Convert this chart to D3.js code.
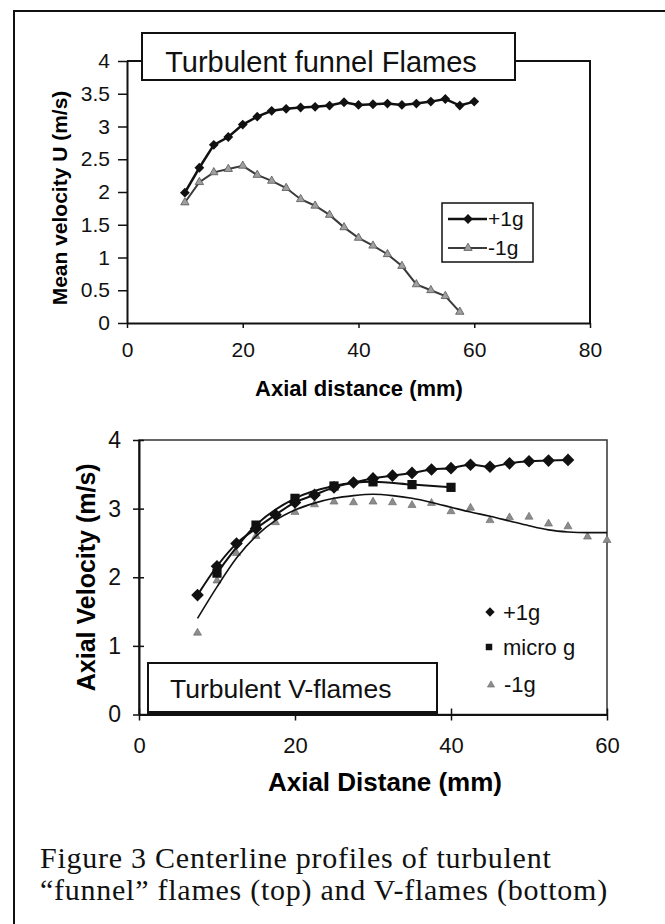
<!DOCTYPE html>
<html>
<head>
<meta charset="utf-8">
<script src="https://cdn.jsdelivr.net/npm/d3@7"></script>
<style>
  body { margin: 0; background: #fff; }
  svg { display: block; }
</style>
</head>
<body>
<script>
// ---- top chart data (Turbulent funnel Flames) ----
const funnelPlusX = [10, 12.5, 15, 17.5, 20, 22.5, 25, 27.5, 30, 32.5, 35, 37.5, 40, 42.5, 45, 47.5, 50, 52.5, 55, 57.5, 60];
const funnelPlusU = [1.99, 2.37, 2.72, 2.84, 3.03, 3.15, 3.24, 3.27, 3.29, 3.30, 3.32, 3.37, 3.33, 3.34, 3.35, 3.33, 3.35, 3.38, 3.42, 3.32, 3.38];
const funnelMinusX = [10, 12.5, 15, 17.5, 20, 22.5, 25, 27.5, 30, 32.5, 35, 37.5, 40, 42.5, 45, 47.5, 50, 52.5, 55, 57.5];
const funnelMinusU = [1.84, 2.15, 2.30, 2.35, 2.40, 2.26, 2.17, 2.06, 1.89, 1.79, 1.65, 1.46, 1.30, 1.18, 1.05, 0.87, 0.59, 0.50, 0.41, 0.17];
const funnelXTicks = [0, 20, 40, 60, 80];
const funnelYTicks = [0, 0.5, 1, 1.5, 2, 2.5, 3, 3.5, 4];
const funnelYTickLabels = ["0", "0.5", "1", "1.5", "2", "2.5", "3", "3.5", "4"];

// ---- bottom chart data (Turbulent V-flames) ----
const vPlusX = [7.5, 10, 12.5, 15, 17.5, 20, 22.5, 25, 27.5, 30, 32.5, 35, 37.5, 40, 42.5, 45, 47.5, 50, 52.5, 55];
const vPlusU = [1.74, 2.16, 2.49, 2.71, 2.91, 3.09, 3.20, 3.31, 3.38, 3.44, 3.48, 3.52, 3.57, 3.59, 3.64, 3.61, 3.66, 3.69, 3.70, 3.71];
const vMicroX = [10, 15, 20, 25, 30, 35, 40];
const vMicroU = [2.06, 2.76, 3.15, 3.33, 3.39, 3.35, 3.31];
const vMinusX = [7.5, 10, 12.5, 15, 17.5, 20, 22.5, 25, 27.5, 30, 32.5, 35, 37.5, 40, 42.5, 45, 47.5, 50, 52.5, 55, 57.5, 60];
const vMinusU = [1.19, 1.95, 2.35, 2.60, 2.80, 2.95, 3.06, 3.10, 3.09, 3.10, 3.09, 3.05, 3.08, 2.96, 3.01, 2.83, 2.87, 2.88, 2.78, 2.74, 2.59, 2.54];
// -1g trendline
const vMinusTrendX = [7.5, 10, 12.5, 15, 17.5, 20, 22.5, 25, 27.5, 30, 32.5, 35, 37.5, 40, 42.5, 45, 47.5, 50, 52.5, 55, 57.5, 60];
const vMinusTrendU = [1.40, 1.86, 2.28, 2.60, 2.83, 2.98, 3.08, 3.15, 3.19, 3.21, 3.19, 3.15, 3.09, 3.02, 2.95, 2.89, 2.82, 2.75, 2.69, 2.66, 2.65, 2.65];
const vXTicks = [0, 20, 40, 60];
const vYTicks = [0, 1, 2, 3, 4];
const vYTickLabels = ["0", "1", "2", "3", "4"];

const sans = "'Liberation Sans', Arial, sans-serif";
const serif = "'Liberation Serif', 'Times New Roman', serif";

const zip = (xs, ys) => xs.map((x, i) => ({ x: x, y: ys[i] }));

const svg = d3.select("body")
    .append("svg")
    .attr("width", 665)
    .attr("height", 924);

// outer page frame (left and top edge visible)
svg.append("path")
    .attr("d", "M14,924 V11 H665")
    .attr("fill", "none")
    .attr("stroke", "#111")
    .attr("stroke-width", 2);

function styleAxis(g, size) {
    g.attr("font-family", sans).attr("font-size", size);
    g.select(".domain").attr("stroke", "#111").attr("stroke-width", 2);
    g.selectAll(".tick line").attr("stroke", "#111").attr("stroke-width", 1.5);
    g.selectAll(".tick text").attr("fill", "#111");
}

const diamond = s => d3.symbol().type(d3.symbolSquare).size(s)();
const square = s => d3.symbol().type(d3.symbolSquare).size(s)();
const triangle = s => d3.symbol().type(d3.symbolTriangle).size(s)();

// ================= TOP CHART =================
const xTop = d3.scaleLinear().domain([0, 80]).range([127, 590]);
const yTop = d3.scaleLinear().domain([0, 4]).range([323, 61]);

// plot area border (top + right)
svg.append("path")
    .attr("d", "M" + xTop(0) + "," + yTop(4) + "H" + xTop(80) + "V" + yTop(0))
    .attr("fill", "none")
    .attr("stroke", "#111")
    .attr("stroke-width", 2);

// Create Y axis
svg.append("g")
    .attr("transform", "translate(" + xTop(0) + ",0)")
    .call(d3.axisLeft(yTop).tickValues(funnelYTicks)
        .tickFormat((d, i) => funnelYTickLabels[i])
        .tickSize(9).tickSizeOuter(0).tickPadding(8))
    .call(g => styleAxis(g, 21));

// Create X axis
svg.append("g")
    .attr("transform", "translate(0," + yTop(0) + ")")
    .call(d3.axisBottom(xTop).tickValues(funnelXTicks)
        .tickSize(5).tickSizeOuter(0).tickPadding(14))
    .call(g => styleAxis(g, 21));

// axis titles
svg.append("text")
    .attr("transform", "translate(60," + ((yTop(0) + yTop(4)) / 2 + 6) + ") rotate(-90)")
    .attr("text-anchor", "middle")
    .attr("dy", "0.35em")
    .attr("font-family", sans)
    .attr("font-weight", "bold")
    .attr("font-size", 21)
    .text("Mean velocity U (m/s)");

svg.append("text")
    .attr("x", 359)
    .attr("y", 388)
    .attr("dy", "0.35em")
    .attr("text-anchor", "middle")
    .attr("font-family", sans)
    .attr("font-weight", "bold")
    .attr("font-size", 22)
    .text("Axial distance (mm)");

const lineTop = d3.line().x(d => xTop(d.x)).y(d => yTop(d.y));
const funnelMinus = zip(funnelMinusX, funnelMinusU);
const funnelPlus = zip(funnelPlusX, funnelPlusU);

// -1g series
svg.append("path")
    .datum(funnelMinus)
    .attr("d", lineTop)
    .attr("fill", "none")
    .attr("stroke", "#3a3a3a")
    .attr("stroke-width", 2);

svg.selectAll(".tri-top")
    .data(funnelMinus)
    .enter().append("path")
    .attr("class", "tri-top")
    .attr("transform", d => "translate(" + xTop(d.x) + "," + yTop(d.y) + ")")
    .attr("d", triangle(30))
    .attr("fill", "#a0a0a0")
    .attr("stroke", "#555")
    .attr("stroke-width", 0.8);

// +1g series
svg.append("path")
    .datum(funnelPlus)
    .attr("d", lineTop)
    .attr("fill", "none")
    .attr("stroke", "#111")
    .attr("stroke-width", 2.5);

svg.selectAll(".dia-top")
    .data(funnelPlus)
    .enter().append("path")
    .attr("class", "dia-top")
    .attr("transform", d => "translate(" + xTop(d.x) + "," + yTop(d.y) + ") rotate(45)")
    .attr("d", diamond(48))
    .attr("fill", "#111");

// title box
svg.append("rect")
    .attr("x", 142).attr("y", 33)
    .attr("width", 373).attr("height", 47)
    .attr("fill", "#fff")
    .attr("stroke", "#111")
    .attr("stroke-width", 2);

svg.append("text")
    .attr("x", 321).attr("y", 72)
    .attr("text-anchor", "middle")
    .attr("font-family", sans)
    .attr("font-size", 29)
    .attr("fill", "#111")
    .text("Turbulent funnel Flames");

// legend
const legTop = svg.append("g");
legTop.append("rect")
    .attr("x", 442).attr("y", 203)
    .attr("width", 91).attr("height", 59)
    .attr("fill", "#fff")
    .attr("stroke", "#111")
    .attr("stroke-width", 1.5);
legTop.append("line")
    .attr("x1", 448).attr("x2", 487).attr("y1", 219).attr("y2", 219)
    .attr("stroke", "#111").attr("stroke-width", 2.5);
legTop.append("path")
    .attr("transform", "translate(468,219) rotate(45)")
    .attr("d", diamond(48))
    .attr("fill", "#111");
legTop.append("line")
    .attr("x1", 448).attr("x2", 487).attr("y1", 248).attr("y2", 248)
    .attr("stroke", "#3a3a3a").attr("stroke-width", 2);
legTop.append("path")
    .attr("transform", "translate(468,248)")
    .attr("d", triangle(30))
    .attr("fill", "#a0a0a0").attr("stroke", "#555").attr("stroke-width", 0.8);
legTop.selectAll("text")
    .data(["+1g", "-1g"])
    .enter().append("text")
    .attr("x", 488)
    .attr("y", (d, i) => 219 + i * 29)
    .attr("dy", "0.35em")
    .attr("font-family", sans)
    .attr("font-size", 21)
    .attr("fill", "#111")
    .text(d => d);

// ================= BOTTOM CHART =================
const xBot = d3.scaleLinear().domain([0, 60]).range([139, 607]);
const yBot = d3.scaleLinear().domain([0, 4]).range([714.5, 440]);

// plot area border
svg.append("rect")
    .attr("x", xBot(0)).attr("y", yBot(4))
    .attr("width", xBot(60) - xBot(0))
    .attr("height", yBot(0) - yBot(4))
    .attr("fill", "none")
    .attr("stroke", "#333")
    .attr("stroke-width", 1.5);

// Create Y axis
svg.append("g")
    .attr("transform", "translate(" + xBot(0) + ",0)")
    .call(d3.axisLeft(yBot).tickValues(vYTicks)
        .tickFormat((d, i) => vYTickLabels[i])
        .tickSize(6).tickSizeOuter(0).tickPadding(12))
    .call(g => styleAxis(g, 23))
    .call(g => g.selectAll(".tick line").attr("x1", 5));

// Create X axis
svg.append("g")
    .attr("transform", "translate(0," + yBot(0) + ")")
    .call(d3.axisBottom(xBot).tickValues(vXTicks)
        .tickSize(6).tickSizeOuter(0).tickPadding(17))
    .call(g => styleAxis(g, 22))
    .call(g => g.selectAll(".tick line").attr("y1", -6));

svg.append("text")
    .attr("transform", "translate(86," + ((yBot(0) + yBot(4)) / 2) + ") rotate(-90)")
    .attr("text-anchor", "middle")
    .attr("dy", "0.35em")
    .attr("font-family", sans)
    .attr("font-weight", "bold")
    .attr("font-size", 25)
    .text("Axial Velocity (m/s)");

svg.append("text")
    .attr("x", 385)
    .attr("y", 782)
    .attr("dy", "0.35em")
    .attr("text-anchor", "middle")
    .attr("font-family", sans)
    .attr("font-weight", "bold")
    .attr("font-size", 26)
    .text("Axial Distane (mm)");

const lineBot = d3.line().x(d => xBot(d.x)).y(d => yBot(d.y)).curve(d3.curveMonotoneX);
const vPlus = zip(vPlusX, vPlusU);
const vMicro = zip(vMicroX, vMicroU);
const vMinus = zip(vMinusX, vMinusU);
const vTrend = zip(vMinusTrendX, vMinusTrendU);

// -1g triangles and its trendline
svg.selectAll(".tri-bot")
    .data(vMinus)
    .enter().append("path")
    .attr("class", "tri-bot")
    .attr("transform", d => "translate(" + xBot(d.x) + "," + yBot(d.y) + ")")
    .attr("d", triangle(28))
    .attr("fill", "#8c8c8c")
    .attr("stroke", "#666")
    .attr("stroke-width", 0.6);

svg.append("path")
    .datum(vTrend)
    .attr("d", lineBot)
    .attr("fill", "none")
    .attr("stroke", "#111")
    .attr("stroke-width", 1.6);

// micro g
svg.append("path")
    .datum(vMicro)
    .attr("d", lineBot)
    .attr("fill", "none")
    .attr("stroke", "#111")
    .attr("stroke-width", 2);

svg.selectAll(".sq-bot")
    .data(vMicro)
    .enter().append("path")
    .attr("class", "sq-bot")
    .attr("transform", d => "translate(" + xBot(d.x) + "," + yBot(d.y) + ")")
    .attr("d", square(85))
    .attr("fill", "#111");

// +1g
svg.append("path")
    .datum(vPlus)
    .attr("d", lineBot)
    .attr("fill", "none")
    .attr("stroke", "#111")
    .attr("stroke-width", 2);

svg.selectAll(".dia-bot")
    .data(vPlus)
    .enter().append("path")
    .attr("class", "dia-bot")
    .attr("transform", d => "translate(" + xBot(d.x) + "," + yBot(d.y) + ") rotate(45)")
    .attr("d", diamond(80))
    .attr("fill", "#111");

// title box
svg.append("rect")
    .attr("x", 148).attr("y", 663)
    .attr("width", 289).attr("height", 51)
    .attr("fill", "#fff")
    .attr("stroke", "#111")
    .attr("stroke-width", 2);
svg.append("line")
    .attr("x1", 148).attr("x2", 437)
    .attr("y1", 713).attr("y2", 713)
    .attr("stroke", "#111").attr("stroke-width", 4);

svg.append("text")
    .attr("x", 170).attr("y", 698)
    .attr("font-family", sans)
    .attr("font-size", 26.5)
    .attr("fill", "#111")
    .text("Turbulent V-flames");

// legend (markers only)
const legBot = svg.append("g");
legBot.append("path")
    .attr("transform", "translate(490,612) rotate(45)")
    .attr("d", diamond(44)).attr("fill", "#111");
legBot.append("path")
    .attr("transform", "translate(489,647)")
    .attr("d", square(42)).attr("fill", "#111");
legBot.append("path")
    .attr("transform", "translate(491,685)")
    .attr("d", triangle(22))
    .attr("fill", "#8c8c8c").attr("stroke", "#666").attr("stroke-width", 0.6);
legBot.selectAll("text")
    .data(["+1g", "micro g", "-1g"])
    .enter().append("text")
    .attr("x", (d, i) => i === 2 ? 504 : 503)
    .attr("y", (d, i) => [612, 647, 684][i])
    .attr("dy", "0.35em")
    .attr("font-family", sans)
    .attr("font-size", 22)
    .attr("fill", "#111")
    .text(d => d);

// ================= CAPTION =================
const caption = ["Figure 3 Centerline profiles of turbulent",
    "\u201cfunnel\u201d flames (top) and V-flames (bottom)"];
svg.selectAll(".caption")
    .data(caption)
    .enter().append("text")
    .attr("class", "caption")
    .attr("x", 40)
    .attr("y", (d, i) => 868 + i * 32)
    .attr("font-family", serif)
    .attr("font-size", 30)
    .attr("letter-spacing", 0.75)
    .attr("fill", "#111")
    .text(d => d);
</script>
</body>
</html>
